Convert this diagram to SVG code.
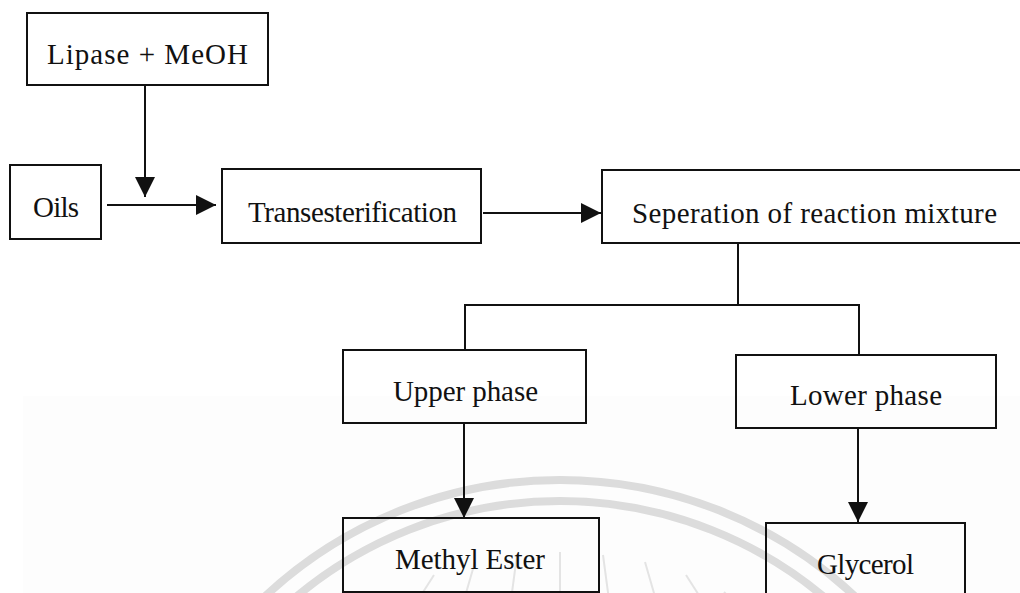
<svg xmlns="http://www.w3.org/2000/svg" width="1020" height="593" viewBox="0 0 1020 593">
<style>
.box{fill:none;stroke:#111;stroke-width:2}
.lbl{font-family:"Liberation Serif","Times New Roman",serif;font-size:29px;fill:#111}
.ln{fill:none;stroke:#111;stroke-width:2}
.wm{fill:none;stroke:#dcdcdc;stroke-width:8}
.ray{stroke:#e4e4e4;stroke-width:2}
</style>
<defs>
<marker id="ah" markerUnits="userSpaceOnUse" markerWidth="20" markerHeight="20" viewBox="0 0 18 18" refX="18" refY="9" orient="auto">
<path d="M0,0 L18,9 L0,18 Z" fill="#111"/>
</marker>
</defs>
<rect x="0" y="0" width="1020" height="593" fill="#fff"/>
<rect x="23" y="396" width="997" height="197" fill="#fdfdfd"/>
<g id="watermark">
<circle class="wm" cx="560" cy="912" r="432"/>
<circle class="wm" cx="560" cy="912" r="411"/>
<g class="ray">
<line x1="560" y1="552" x2="560" y2="600"/>
<line x1="517" y1="555" x2="511" y2="600"/>
<line x1="603" y1="555" x2="609" y2="600"/>
<line x1="475" y1="562" x2="464" y2="600"/>
<line x1="645" y1="562" x2="656" y2="600"/>
<line x1="434" y1="575" x2="418" y2="600"/>
<line x1="686" y1="575" x2="702" y2="600"/>
<line x1="396" y1="592" x2="388" y2="600"/>
<line x1="724" y1="592" x2="732" y2="600"/>
</g>
</g>
<g id="connectors">
<line class="ln" x1="145" y1="85" x2="145" y2="197" marker-end="url(#ah)"/>
<line class="ln" x1="107" y1="205" x2="216" y2="205" marker-end="url(#ah)"/>
<line class="ln" x1="483" y1="213" x2="601" y2="213" marker-end="url(#ah)"/>
<polyline class="ln" points="738,243 738,305"/>
<polyline class="ln" points="465,350 465,305 859,305 859,355"/>
<line class="ln" x1="464" y1="423" x2="464" y2="518" marker-end="url(#ah)"/>
<line class="ln" x1="858" y1="428" x2="858" y2="522" marker-end="url(#ah)"/>
</g>
<g id="lipase">
<rect class="box" x="27" y="13" width="241" height="72"/>
<text class="lbl" x="47" y="64" textLength="201" lengthAdjust="spacing">Lipase + MeOH</text>
</g>
<g id="oils">
<rect class="box" x="10" y="165" width="91" height="74"/>
<text class="lbl" x="33" y="217" textLength="46" lengthAdjust="spacing">Oils</text>
</g>
<g id="transesterification">
<rect class="box" x="222" y="169" width="259" height="74"/>
<text class="lbl" x="248" y="222" textLength="209" lengthAdjust="spacing">Transesterification</text>
</g>
<g id="separation">
<rect class="box" x="602" y="170" width="430" height="73"/>
<text class="lbl" x="632" y="223" textLength="365" lengthAdjust="spacing">Seperation of reaction mixture</text>
</g>
<g id="upper">
<rect class="box" x="343" y="350" width="243" height="73"/>
<text class="lbl" x="393" y="401" textLength="145" lengthAdjust="spacing">Upper phase</text>
</g>
<g id="lower">
<rect class="box" x="736" y="355" width="260" height="73"/>
<text class="lbl" x="790" y="405" textLength="152" lengthAdjust="spacing">Lower phase</text>
</g>
<g id="methyl">
<rect class="box" x="343" y="518" width="256" height="74"/>
<text class="lbl" x="395" y="569" textLength="150" lengthAdjust="spacing">Methyl Ester</text>
</g>
<g id="glycerol">
<rect class="box" x="766" y="523" width="199" height="80"/>
<text class="lbl" x="817" y="574" textLength="97" lengthAdjust="spacing">Glycerol</text>
</g>
</svg>
